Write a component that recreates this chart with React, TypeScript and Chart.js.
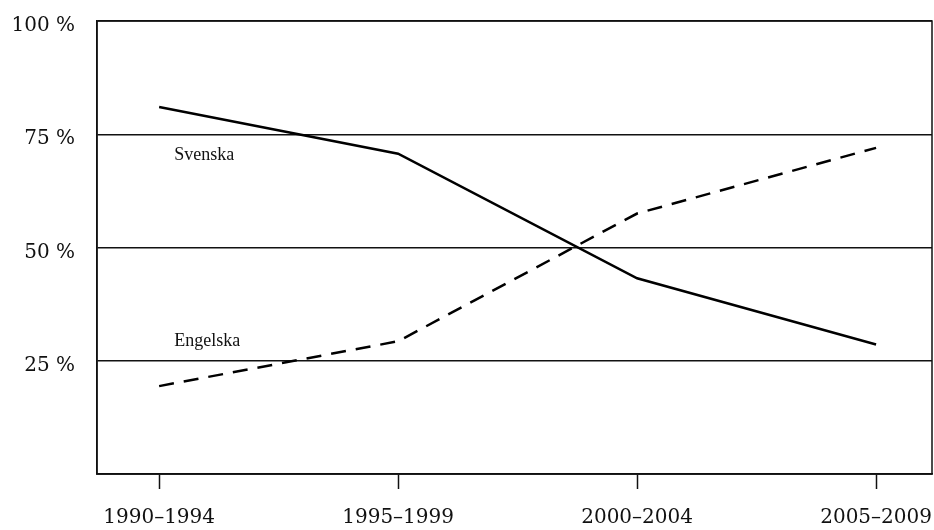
import React, { useEffect, useRef } from "react";
import { Chart, registerables } from "chart.js";

Chart.register(...registerables);

const periods = ["1990–1994", "1995–1999", "2000–2004", "2005–2009"];
const svenska = [81, 70.7, 43.2, 28.6];
const engelska = [19.4, 29.3, 57.5, 72];
const yTicks = [0, 25, 50, 75, 100];
const seriesLabels = ["Svenska", "Engelska"];
const labelPosX = [0.063, 0.063];
const labelPosY = [70.4, 29.4];

const boxAndLabels = {
  id: "boxAndLabels",
  afterDraw(chart: any) {
    const { ctx, chartArea, scales } = chart;
    ctx.save();
    ctx.strokeStyle = "#111";
    ctx.lineWidth = 1.5;
    ctx.strokeRect(chartArea.left, chartArea.top, chartArea.right - chartArea.left, chartArea.bottom - chartArea.top);
    ctx.fillStyle = "#111";
    ctx.font = '18px "Liberation Serif"';
    ctx.textAlign = "left";
    ctx.textBaseline = "middle";
    seriesLabels.forEach((t, i) => {
      ctx.fillText(t, scales.x.getPixelForValue(labelPosX[i]), scales.y.getPixelForValue(labelPosY[i]));
    });
    ctx.restore();
  },
};

export default function App() {
  const ref = useRef<HTMLCanvasElement>(null);
  useEffect(() => {
    if (!ref.current) return;
    const chart = new Chart(ref.current, {
      type: "line",
      data: {
        datasets: [
          {
            label: "Svenska",
            data: svenska.map((v, i) => ({ x: i, y: v })),
            borderColor: "#000",
            borderWidth: 2.5,
            pointRadius: 0,
            tension: 0,
          },
          {
            label: "Engelska",
            data: engelska.map((v, i) => ({ x: i, y: v })),
            borderColor: "#000",
            borderWidth: 2.5,
            borderDash: [15, 10],
            pointRadius: 0,
            tension: 0,
          },
        ],
      },
      options: {
        responsive: false,
        animation: false,
        layout: { padding: { left: 0, right: 2, top: 21, bottom: 0 } },
        plugins: { legend: { display: false }, tooltip: { enabled: false } },
        scales: {
          x: {
            type: "linear",
            min: -0.26,
            max: 3.234,
            afterBuildTicks: (s: any) => {
              s.ticks = periods.map((_, i) => ({ value: i }));
            },
            afterFit: (s: any) => {
              s.height = 56;
            },
            ticks: {
              callback: (v: any) => periods[v] ?? "",
              color: "#111",
              font: { family: "DejaVu Serif", size: 20, lineHeight: 2.9 },
              padding: 0,
              maxRotation: 0,
              autoSkip: false,
            },
            grid: {
              drawOnChartArea: false,
              drawTicks: true,
              tickLength: 15,
              tickColor: "#111",
              tickWidth: 1.5,
            },
            border: { color: "#111", width: 1.5 },
          },
          y: {
            min: 0,
            max: 100,
            afterBuildTicks: (s: any) => {
              s.ticks = yTicks.map((v) => ({ value: v }));
            },
            afterFit: (s: any) => {
              s.width = 97;
            },
            ticks: {
              callback: (v: any) => (v === 0 ? "" : v + " %"),
              color: "#111",
              font: { family: "DejaVu Serif", size: 20 },
              padding: 0,
              labelOffset: 5,
            },
            grid: {
              drawTicks: true,
              tickLength: 22,
              tickColor: "rgba(0,0,0,0)",
              color: "#111",
              lineWidth: 1.5,
            },
            border: { color: "#111", width: 1.5 },
          },
        },
      },
      plugins: [boxAndLabels],
    });
    return () => chart.destroy();
  }, []);
  return (
    <div style={{ position: "absolute", left: 0, top: 0, width: 934, height: 530, background: "#fff" }}>
      <canvas ref={ref} width={934} height={530} />
    </div>
  );
}
